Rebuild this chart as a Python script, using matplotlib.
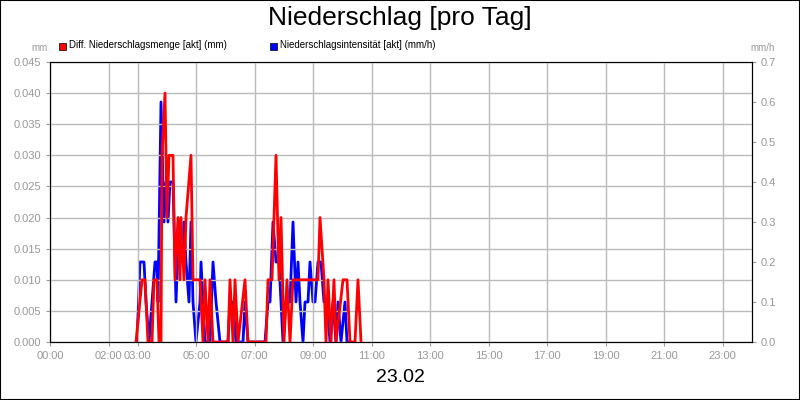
import numpy as np
import matplotlib
matplotlib.use("Agg")
import matplotlib.pyplot as plt
from matplotlib.patches import Rectangle

plt.rcParams['font.family'] = ['Liberation Sans', 'DejaVu Sans']

PX0, PXH = 50.0, 29.25  # pixel -> hour helper for read-off positions

# Diff. Niederschlagsmenge (mm): pixel x positions, values
red_x = [136, 142, 145, 148, 152, 154, 157, 159, 161, 162, 165, 167, 169, 173, 175,
         178, 180, 181, 184, 186, 191, 193, 200, 203, 205, 208, 210, 213, 228, 230, 233,
         235, 238, 245, 248, 266, 268, 272, 276, 279, 281, 284, 287, 290, 293, 318, 320,
         324, 326, 328, 331, 334, 336, 343, 347, 350, 355, 358, 361]
red_v = [0, 0.01, 0.01, 0, 0, 0.01, 0.01, 0, 0, 0.03, 0.04, 0.02, 0.03, 0.03, 0.01,
         0.02, 0.01, 0.02, 0.01, 0.02, 0.03, 0.01, 0.01, 0, 0.01, 0, 0.01, 0, 0, 0.01, 0,
         0.01, 0, 0.01, 0, 0, 0.01, 0.01, 0.03, 0.01, 0.02, 0, 0.01, 0, 0.01, 0.01, 0.02,
         0.01, 0, 0.01, 0, 0.01, 0, 0.01, 0.01, 0, 0, 0.01, 0]

# Niederschlagsintensität (mm/h)
blue_x = [137, 140, 144, 146, 149, 152, 155, 157, 158, 161, 164, 166, 168, 170, 173,
          176, 179, 182, 184, 186, 189, 191, 193, 196, 200, 201, 203, 205, 210, 213, 216,
          220, 228, 230, 233, 236, 243, 245, 248, 265, 268, 270, 273, 276, 279, 281, 283,
          286, 290, 293, 296, 298, 300, 303, 305, 308, 310, 313, 315, 318, 321, 324, 327,
          330, 333, 336, 338, 341, 345, 347, 350]
blue_v = [0, 0.2, 0.2, 0.1, 0, 0.1, 0.2, 0.2, 0.1, 0.6, 0.3, 0.4, 0.3, 0.4, 0.4,
          0.1, 0.3, 0.2, 0.3, 0.2, 0.1, 0.3, 0.1, 0, 0.1, 0.2, 0.1, 0, 0, 0.2, 0.1,
          0, 0, 0.1, 0.1, 0, 0, 0.1, 0, 0, 0.1, 0.1, 0.3, 0.2, 0.2, 0.1, 0,
          0.1, 0.1, 0.3, 0.1, 0.2, 0.1, 0, 0.1, 0.1, 0.2, 0.1, 0.1, 0.2, 0.2, 0.1, 0.1,
          0, 0.1, 0, 0.1, 0, 0.1, 0, 0]

tick_hours = [0, 2, 3, 5, 7, 9, 11, 13, 15, 17, 19, 21, 23]
tick_labels = ["%02d:00" % h for h in tick_hours]

red_h = (np.array(red_x) - PX0) / PXH
blue_h = (np.array(blue_x) - PX0) / PXH

fig = plt.figure(figsize=(8, 4), dpi=100)
fig.patches.append(Rectangle((0, 0), 1, 1, transform=fig.transFigure, fill=False,
                             ec="black", lw=1.5))
ax = fig.add_axes([50 / 800, 58 / 400, 702 / 800, 280 / 400])
ax2 = ax.twinx()

ax.plot(red_h, red_v, color="#ff0000", lw=2, zorder=3)
ax2.plot(blue_h, blue_v, color="#0000ff", lw=2, zorder=2)
ax.set_zorder(ax2.get_zorder() + 1)
ax.patch.set_visible(False)

ax.set_xlim(0, 24)
ax.set_ylim(0, 0.045)
ax2.set_ylim(0, 0.7)
ax.set_yticks(np.arange(0, 0.0451, 0.005))
ax.set_yticklabels(["%.3f" % v for v in np.arange(0, 0.0451, 0.005)])
ax2.set_yticks(np.arange(0, 0.71, 0.1))
ax2.set_yticklabels(["%.1f" % v for v in np.arange(0, 0.71, 0.1)])
ax.set_xticks(tick_hours)
ax.set_xticklabels(tick_labels)
ax.grid(True, color="#bbbbbb", lw=1)
for a in (ax, ax2):
    a.tick_params(labelsize=8, labelcolor="#999999", length=3, color="#999999")
    for s in a.spines.values():
        s.set_color("black")

fig.text(0.5, 0.955, "Niederschlag [pro Tag]", ha="center", va="center", fontsize=19)
fig.text(0.5, 0.055, "23.02", ha="center", va="center", fontsize=14)
fig.text(40 / 800, 0.88, "mm", ha="center", va="center", fontsize=7, color="#999999")
fig.text(763 / 800, 0.88, "mm/h", ha="center", va="center", fontsize=7, color="#999999")
fig.patches.append(Rectangle((59 / 800, 0.875), 7 / 800, 7 / 400, transform=fig.transFigure,
                             fc="#ff0000", ec="black", lw=0.5))
fig.text(69 / 800, 0.888, "Diff. Niederschlagsmenge [akt] (mm)", va="center", fontsize=7)
fig.patches.append(Rectangle((270 / 800, 0.875), 7 / 800, 7 / 400, transform=fig.transFigure,
                             fc="#0000ff", ec="black", lw=0.5))
fig.text(280 / 800, 0.888, "Niederschlagsintensität [akt] (mm/h)", va="center", fontsize=7)

plt.savefig("out.png", dpi=100)
